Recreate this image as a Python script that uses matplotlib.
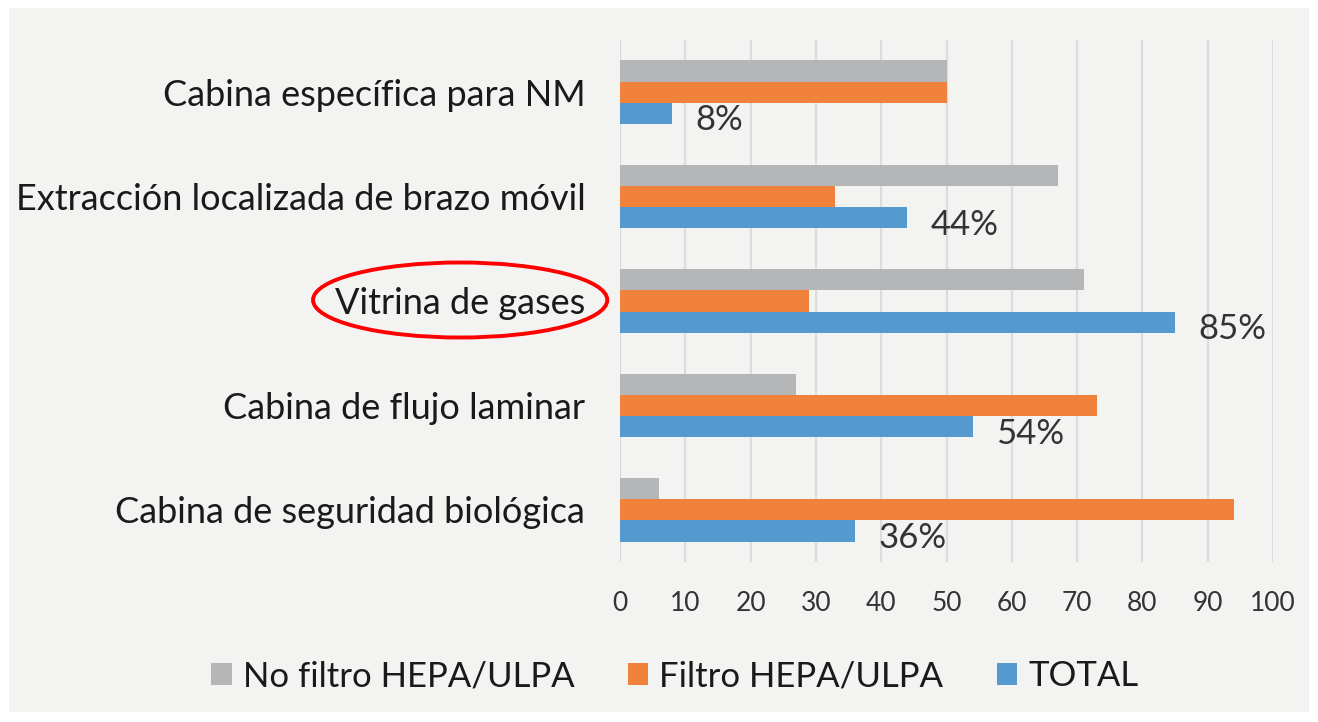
import matplotlib
matplotlib.use("Agg")
import matplotlib.pyplot as plt
from matplotlib.patches import Rectangle, Ellipse
import numpy as np

plt.rcParams['font.family'] = ['Lato', 'DejaVu Sans']

categories = ["Cabina de seguridad biológica", "Cabina de flujo laminar",
              "Vitrina de gases", "Extracción localizada de brazo móvil",
              "Cabina específica para NM"]
no_filtro = [6, 27, 71, 67, 50]
filtro = [94, 73, 29, 33, 50]
total = [36, 54, 85, 44, 8]
total_labels = ["36%", "54%", "85%", "44%", "8%"]
series_names = ["No filtro HEPA/ULPA", "Filtro HEPA/ULPA", "TOTAL"]
xticks = [0, 10, 20, 30, 40, 50, 60, 70, 80, 90, 100]
highlight = "Vitrina de gases"

c_gray = "#b5b6b7"
c_orange = "#f0823c"
c_blue = "#5599d1"
bg = "#f3f3f2"

fig = plt.figure(figsize=(13.18, 7.22), dpi=100, facecolor="white")
fig.patches.append(Rectangle((9/1318, 10/722), 1300/1318, 704/722,
                             transform=fig.transFigure, facecolor=bg,
                             edgecolor="none", zorder=-10))
ax = fig.add_axes([620/1318, 1 - 562/722, 653/1318, 522/722])
ax.set_facecolor("none")

y = np.arange(len(categories))
h = 0.203
ax.barh(y + h, no_filtro, height=h, color=c_gray, label=series_names[0], zorder=3)
ax.barh(y, filtro, height=h, color=c_orange, label=series_names[1], zorder=3)
bars = ax.barh(y - h, total, height=h, color=c_blue, label=series_names[2], zorder=3)

for b, lab in zip(bars, total_labels):
    ax.annotate(lab, (b.get_width(), b.get_y() + b.get_height() / 2),
                xytext=(17, -5), textcoords="offset points",
                ha="left", va="center", fontsize=25, color="#333333")

ax.set_xlim(0, 100)
ax.set_ylim(-0.5, len(categories) - 0.5)
ax.set_xticks(xticks)
ax.set_xticklabels([str(v) for v in xticks])
ax.set_yticks(y)
ax.set_yticklabels(categories)
ax.tick_params(axis="x", length=0, pad=21, labelsize=19, labelcolor="#333333")
ax.tick_params(axis="y", length=0, pad=25, labelsize=26, labelcolor="#1a1a1a")
ax.grid(axis="x", color="#dcdcdc", linewidth=1.6, zorder=0)
ax.set_axisbelow(True)
for s in ax.spines.values():
    s.set_visible(False)

leg = fig.legend(loc="center", bbox_to_anchor=(675/1318, 1 - 676/722),
                 ncol=3, frameon=False, fontsize=25,
                 handlelength=0.58, handleheight=0.62, handletextpad=0.32,
                 columnspacing=1.55, labelcolor="#1a1a1a")

# red ellipse around the highlighted category label
fig.canvas.draw()
renderer = fig.canvas.get_renderer()
for t in ax.get_yticklabels():
    if t.get_text() == highlight:
        bb = t.get_window_extent(renderer)
        cx, cy = (bb.x0 + bb.x1) / 2, (bb.y0 + bb.y1) / 2 + 4
        e = Ellipse((cx / fig.bbox.width, cy / fig.bbox.height),
                    (bb.width + 44) / fig.bbox.width, (bb.height + 42) / fig.bbox.height,
                    transform=fig.transFigure, fill=False, edgecolor="#ff0000",
                    linewidth=2.8, zorder=20)
        fig.patches.append(e)

fig.savefig("out.png", dpi=100, facecolor="white")
